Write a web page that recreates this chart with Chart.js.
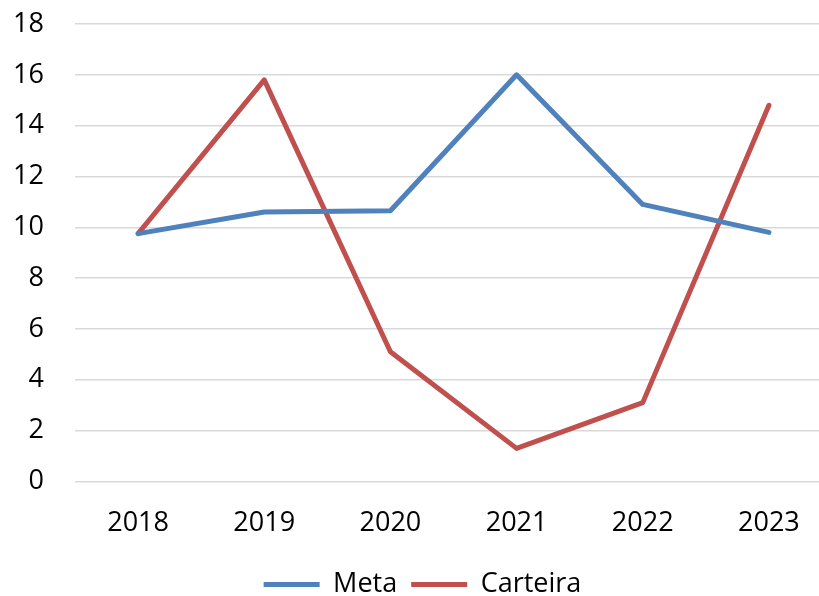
<!DOCTYPE html>
<html>
<head>
<meta charset="utf-8">
<script src="https://cdn.jsdelivr.net/npm/chart.js@4/dist/chart.umd.min.js"></script>
<style>
  html, body { margin: 0; padding: 0; background: #fff; overflow: hidden; }
  /* plot area runs past the right edge, as in the original picture */
  #wrap { width: 819px; height: 596px; overflow: hidden; }
  #box { width: 832px; height: 596px; }
</style>
</head>
<body>
<div id="wrap"><div id="box"><canvas id="lineChart"></canvas></div></div>
<script>
// Anos no eixo x
const anos = ['2018', '2019', '2020', '2021', '2022', '2023'];

// Valores
const meta = [9.75, 10.6, 10.65, 16.0, 10.9, 9.8];
const carteira = [9.75, 15.8, 5.1, 1.3, 3.1, 14.8];

// Eixo y
const yMin = 0;
const yMax = 18;
const yStep = 2;

const fontFamily = '"Open Sans", "Liberation Sans", sans-serif';

const ctx = document.getElementById('lineChart').getContext('2d');

new Chart(ctx, {
    type: 'line',
    data: {
        labels: anos,
        datasets: [
            {
                label: 'Meta',
                data: meta,
                borderColor: '#4F81BD', // azul
                backgroundColor: '#4F81BD',
                borderWidth: 5,
                borderCapStyle: 'round',
                borderJoinStyle: 'round',
                pointRadius: 0,
                tension: 0,
                fill: false
            },
            {
                label: 'Carteira',
                data: carteira,
                borderColor: '#C0504D', // vermelho
                backgroundColor: '#C0504D',
                borderWidth: 5,
                borderCapStyle: 'round',
                borderJoinStyle: 'round',
                pointRadius: 0,
                tension: 0,
                fill: false
            }
        ]
    },
    options: {
        responsive: true,
        maintainAspectRatio: false,
        animation: false,
        layout: { padding: { left: 13, top: 24, right: 0, bottom: -12 } },
        scales: {
            x: {
                offset: true,
                grid: { display: false },
                border: { display: false },
                ticks: {
                    color: '#000',
                    padding: 17.6,
                    font: { family: fontFamily, size: 27 }
                }
            },
            y: {
                min: yMin,
                max: yMax,
                grid: { color: '#D9D9D9', lineWidth: 1.5, drawTicks: false },
                border: { display: false },
                afterFit: (scale) => {
                    scale.width = 62; // labels + padding
                    scale.paddingTop = 0;
                    scale.paddingBottom = 0;
                },
                ticks: {
                    stepSize: yStep,
                    color: '#000',
                    padding: 31,
                    font: { family: fontFamily, size: 27 }
                }
            }
        },
        plugins: {
            legend: {
                display: true,
                position: 'bottom',
                labels: {
                    usePointStyle: true,
                    pointStyle: 'line',
                    pointStyleWidth: 56,
                    padding: 14,
                    color: '#000',
                    font: { family: fontFamily, size: 27 }
                }
            },
            tooltip: { enabled: false }
        }
    }
});
</script>
</body>
</html>
